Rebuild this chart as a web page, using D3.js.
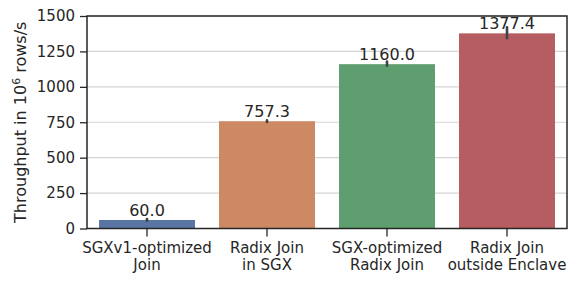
<!DOCTYPE html>
<html>
<head>
<meta charset="utf-8">
<script src="https://cdn.jsdelivr.net/npm/d3@7"></script>
<style>
  body { margin: 0; background: #fff; }
  text { font-family: "DejaVu Sans", sans-serif; fill: #262626; }
</style>
</head>
<body>
<div id="chart"></div>
<script>
// data
const categories = [
  ['SGXv1-optimized', 'Join'],
  ['Radix Join', 'in SGX'],
  ['SGX-optimized', 'Radix Join'],
  ['Radix Join', 'outside Enclave']
];
const values = [60.0, 757.3, 1160.0, 1377.4];
const errLow = [55, 752, 1150, 1343];
const errHigh = [66, 763, 1178, 1420];
const yTicks = [0, 250, 500, 750, 1000, 1250, 1500];
const colors = ['#5975a4', '#cc8963', '#5f9e6e', '#b55d60'];

const W = 578, H = 284;
const margin = { top: 16, right: 11, bottom: 55.5, left: 87 };
const width = W - margin.left - margin.right;
const height = H - margin.top - margin.bottom;

const svg = d3.select('#chart').append('svg')
  .attr('width', W)
  .attr('height', H);

const g = svg.append('g')
  .attr('transform', `translate(${margin.left}, ${margin.top})`);

const idx = d3.range(values.length);
const x = d3.scaleBand().domain(idx).range([0, width]).paddingInner(0.2).paddingOuter(0.1);
const y = d3.scaleLinear().domain([0, 1500]).range([height, 0]);

// grid
g.append('g')
  .selectAll('line')
  .data(yTicks)
  .join('line')
  .attr('x1', 0).attr('x2', width)
  .attr('y1', d => y(d)).attr('y2', d => y(d))
  .attr('stroke', '#d4d4d4')
  .attr('stroke-width', 1.2);

// bars
g.selectAll('.bar')
  .data(values)
  .join('rect')
  .attr('class', 'bar')
  .attr('x', (d, i) => x(i))
  .attr('y', d => y(d))
  .attr('width', x.bandwidth())
  .attr('height', d => height - y(d))
  .attr('fill', (d, i) => colors[i]);

// error bars
g.selectAll('.err')
  .data(idx)
  .join('line')
  .attr('class', 'err')
  .attr('x1', i => x(i) + x.bandwidth() / 2)
  .attr('x2', i => x(i) + x.bandwidth() / 2)
  .attr('y1', i => y(errLow[i]))
  .attr('y2', i => y(errHigh[i]))
  .attr('stroke', '#424242')
  .attr('stroke-width', 2.6)
  .attr('stroke-linecap', 'round');

// value labels
g.selectAll('.val')
  .data(values)
  .join('text')
  .attr('class', 'val')
  .attr('x', (d, i) => x(i) + x.bandwidth() / 2)
  .attr('y', d => y(d) - 4)
  .attr('text-anchor', 'middle')
  .attr('font-size', 16)
  .text(d => d.toFixed(1));

// axes
const yAxis = g.append('g')
  .call(d3.axisLeft(y).tickValues(yTicks).tickFormat(d3.format('d')).tickSize(7).tickPadding(5));
const xAxis = g.append('g')
  .attr('transform', `translate(0, ${height})`)
  .call(d3.axisBottom(x).tickSize(8).tickFormat(''));

[yAxis, xAxis].forEach(a => {
  a.select('.domain').remove();
  a.attr('font-size', 15).attr('font-family', 'DejaVu Sans');
  a.selectAll('.tick line').attr('stroke', '#262626').attr('stroke-width', 1.3);
});
yAxis.selectAll('.tick text').attr('fill', '#262626');

xAxis.selectAll('.tick').each(function (i) {
  const t = d3.select(this).append('text')
    .attr('text-anchor', 'middle')
    .attr('fill', '#262626');
  categories[i].forEach((line, k) => {
    t.append('tspan').attr('x', 0).attr('y', 24.5 + k * 17).text(line);
  });
});

// frame
g.append('rect')
  .attr('width', width)
  .attr('height', height)
  .attr('fill', 'none')
  .attr('stroke', '#262626')
  .attr('stroke-width', 1.5);

// y label
const yl = svg.append('text')
  .attr('transform', `translate(26, ${margin.top + height / 2}) rotate(-90)`)
  .attr('text-anchor', 'middle')
  .attr('font-size', 16);
yl.append('tspan').text('Throughput in 10');
yl.append('tspan').attr('dy', -6).attr('font-size', 11).text('6');
yl.append('tspan').attr('dy', 6).text(' rows/s');
</script>
</body>
</html>
